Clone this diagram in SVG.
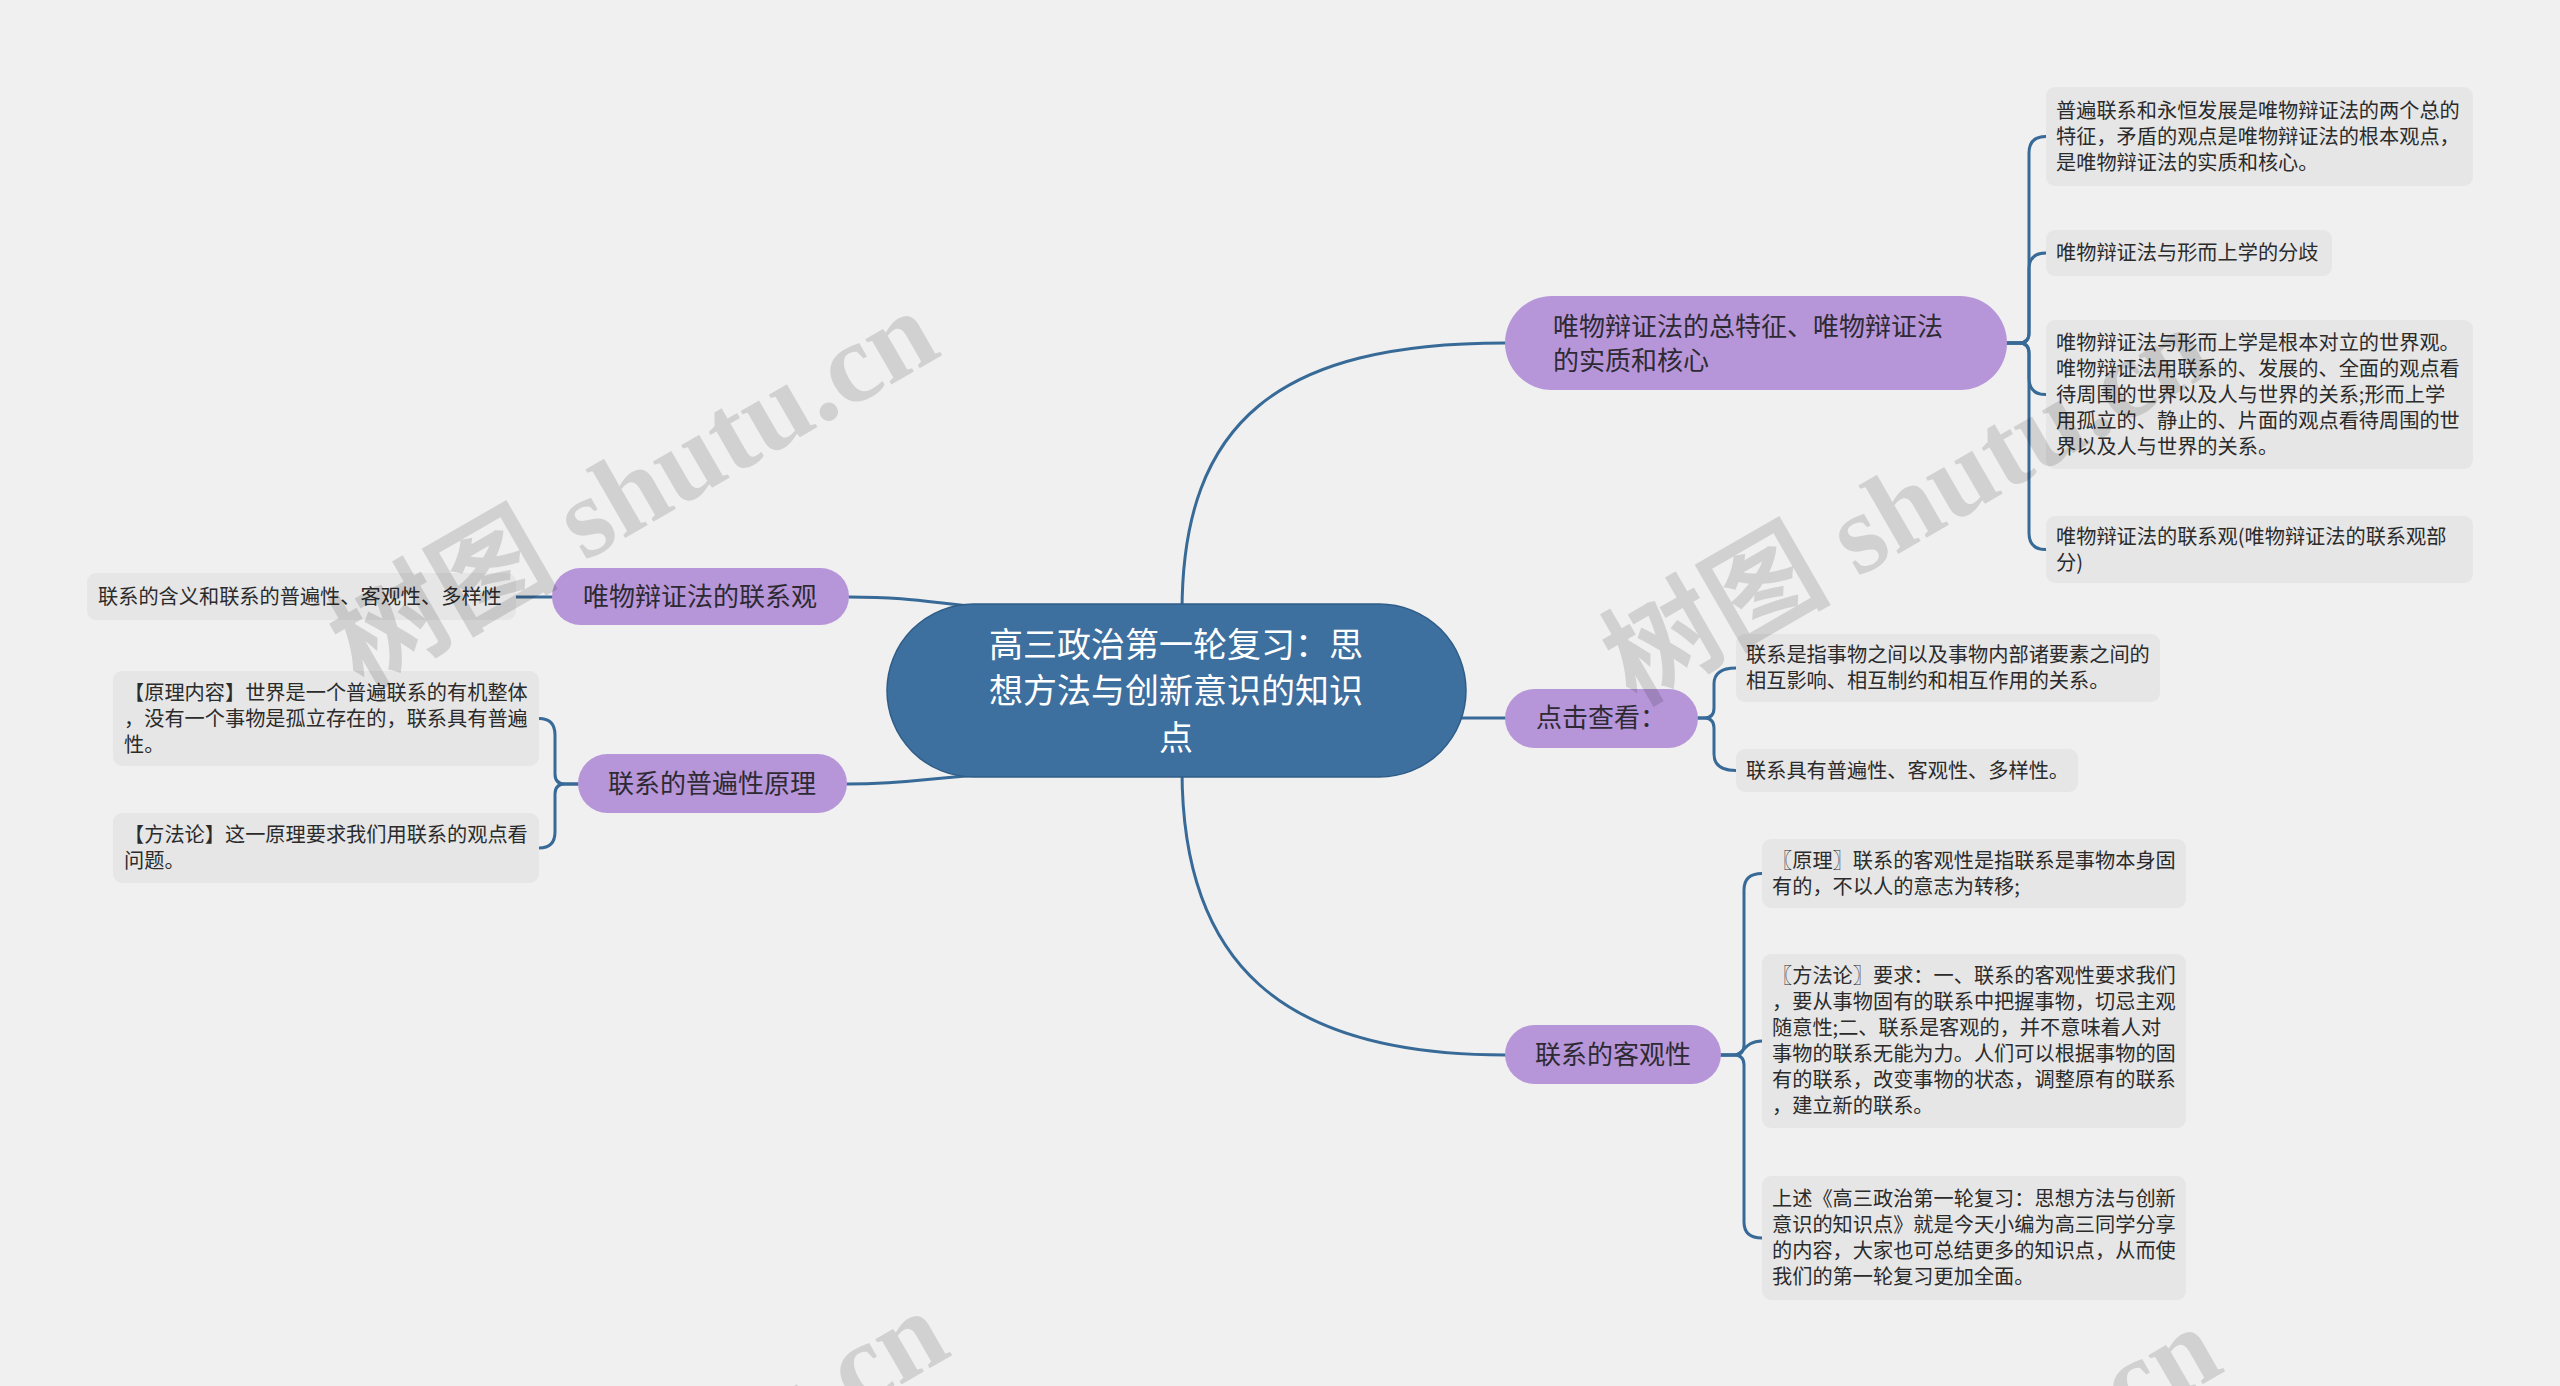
<svg xmlns="http://www.w3.org/2000/svg" width="2560" height="1386" viewBox="0 0 2560 1386">
<style>
.bg{fill:#f0f0f0}
.conn path{fill:none;stroke:#386a98;stroke-width:3;stroke-linecap:round}
.root rect{fill:#3d6f9f;stroke:#2f5d88;stroke-width:1.5}
.root text{fill:#ffffff;font-family:"Noto Sans CJK SC",sans-serif;font-size:34px;text-anchor:middle}
.main rect{fill:#b696d8}
.main text{fill:#2e2a33;font-family:"Noto Sans CJK SC",sans-serif;font-size:26px}
.leaf rect{fill:#e6e6e6}
.leaf text{fill:#2b2b2b;font-family:"Noto Sans CJK SC",sans-serif;font-size:20.2px}
.wm{fill:#000;fill-opacity:0.13;font-family:"Liberation Serif","Noto Sans CJK SC",serif;font-weight:bold;font-size:114px}
</style>
<rect class="bg" x="0" y="0" width="2560" height="1386"/>

<g class="conn" id="connectors">
<path d="M1182 612 C1182 420 1280 343 1505 343"/>
<path d="M1182 770 C1182 962 1280 1055 1505 1055"/>
<path d="M1440 718 H1505"/>
<path d="M849 597 C930 597 940 607 1030 610"/>
<path d="M847 784 C920 784 940 775 1030 772"/>
<path d="M2007 343 H2019 Q2029 343 2029 333 V153 Q2029 136.5 2046 136.5"/>
<path d="M2007 343 H2019 Q2029 343 2029 333 V269 Q2029 253 2046 253"/>
<path d="M2007 343 H2019 Q2029 343 2029 353 V378 Q2029 394.5 2046 394.5"/>
<path d="M2007 343 H2019 Q2029 343 2029 353 V533 Q2029 549.5 2046 549.5"/>
<path d="M1698 718 H1704 Q1714 718 1714 708 V684 Q1714 668 1736 668"/>
<path d="M1698 718 H1704 Q1714 718 1714 728 V754 Q1714 770.5 1736 770.5"/>
<path d="M1721 1055 H1734 Q1744 1055 1744 1045 V890 Q1744 873.5 1762 873.5"/>
<path d="M1721 1055 H1734 C1744 1055 1744 1041 1762 1041"/>
<path d="M1721 1055 H1734 Q1744 1055 1744 1065 V1222 Q1744 1238 1762 1238"/>
<path d="M552 597 H516"/>
<path d="M578 784 H565 Q555 784 555 774 V735 Q555 718.5 539 718.5"/>
<path d="M578 784 H565 Q555 784 555 794 V832 Q555 848 539 848"/>
</g>

<g class="root" id="node-root">
<rect x="887" y="604" width="579" height="173" rx="86.5"/>
<text x="1176" y="657">高三政治第一轮复习：思</text>
<text x="1176" y="703">想方法与创新意识的知识</text>
<text x="1176" y="750">点</text>
</g>

<g class="main" id="node-a">
<rect x="1505" y="296" width="502" height="94" rx="47"/>
<text x="1553" y="336">唯物辩证法的总特征、唯物辩证法</text>
<text x="1553" y="370">的实质和核心</text>
</g>
<g class="main" id="node-b">
<rect x="1505" y="689" width="193" height="59" rx="29.5"/>
<text x="1536" y="727">点击查看：</text>
</g>
<g class="main" id="node-c">
<rect x="1505" y="1025" width="216" height="59" rx="29.5"/>
<text x="1613" y="1064" text-anchor="middle">联系的客观性</text>
</g>
<g class="main" id="node-d">
<rect x="552" y="568" width="297" height="57" rx="28.5"/>
<text x="700" y="606" text-anchor="middle">唯物辩证法的联系观</text>
</g>
<g class="main" id="node-e">
<rect x="578" y="754" width="269" height="59" rx="29.5"/>
<text x="712" y="793" text-anchor="middle">联系的普遍性原理</text>
</g>

<g class="leaf" id="leaf-a1">
<rect x="2046" y="87" width="427" height="99" rx="9"/>
<text x="2056" y="117.5">普遍联系和永恒发展是唯物辩证法的两个总的</text>
<text x="2056" y="143.5">特征，矛盾的观点是唯物辩证法的根本观点，</text>
<text x="2056" y="169.5">是唯物辩证法的实质和核心。</text>
</g>
<g class="leaf" id="leaf-a2">
<rect x="2046" y="230" width="286" height="46" rx="9"/>
<text x="2056" y="260">唯物辩证法与形而上学的分歧</text>
</g>
<g class="leaf" id="leaf-a3">
<rect x="2046" y="320" width="427" height="149" rx="9"/>
<text x="2056" y="349.5">唯物辩证法与形而上学是根本对立的世界观。</text>
<text x="2056" y="375.5">唯物辩证法用联系的、发展的、全面的观点看</text>
<text x="2056" y="401.5">待周围的世界以及人与世界的关系;形而上学</text>
<text x="2056" y="427.5">用孤立的、静止的、片面的观点看待周围的世</text>
<text x="2056" y="453.5">界以及人与世界的关系。</text>
</g>
<g class="leaf" id="leaf-a4">
<rect x="2046" y="516" width="427" height="67" rx="9"/>
<text x="2056" y="543.5">唯物辩证法的联系观(唯物辩证法的联系观部</text>
<text x="2056" y="569.5">分)</text>
</g>
<g class="leaf" id="leaf-b1">
<rect x="1736" y="634" width="424" height="68" rx="9"/>
<text x="1746" y="662">联系是指事物之间以及事物内部诸要素之间的</text>
<text x="1746" y="688">相互影响、相互制约和相互作用的关系。</text>
</g>
<g class="leaf" id="leaf-b2">
<rect x="1736" y="749" width="342" height="43" rx="9"/>
<text x="1746" y="777.5">联系具有普遍性、客观性、多样性。</text>
</g>
<g class="leaf" id="leaf-c1">
<rect x="1762" y="839" width="424" height="69" rx="9"/>
<text x="1772" y="867.5">〖原理〗联系的客观性是指联系是事物本身固</text>
<text x="1772" y="893.5">有的，不以人的意志为转移;</text>
</g>
<g class="leaf" id="leaf-c2">
<rect x="1762" y="954" width="424" height="174" rx="9"/>
<text x="1772" y="983">〖方法论〗要求：一、联系的客观性要求我们</text>
<text x="1772" y="1009">，要从事物固有的联系中把握事物，切忌主观</text>
<text x="1772" y="1035">随意性;二、联系是客观的，并不意味着人对</text>
<text x="1772" y="1061">事物的联系无能为力。人们可以根据事物的固</text>
<text x="1772" y="1087">有的联系，改变事物的状态，调整原有的联系</text>
<text x="1772" y="1113">，建立新的联系。</text>
</g>
<g class="leaf" id="leaf-c3">
<rect x="1762" y="1176" width="424" height="124" rx="9"/>
<text x="1772" y="1206">上述《高三政治第一轮复习：思想方法与创新</text>
<text x="1772" y="1232">意识的知识点》就是今天小编为高三同学分享</text>
<text x="1772" y="1258">的内容，大家也可总结更多的知识点，从而使</text>
<text x="1772" y="1284">我们的第一轮复习更加全面。</text>
</g>
<g class="leaf" id="leaf-d1">
<rect x="87" y="573" width="429" height="47" rx="9"/>
<text x="98" y="604">联系的含义和联系的普遍性、客观性、多样性</text>
</g>
<g class="leaf" id="leaf-e1">
<rect x="113" y="671" width="426" height="95" rx="9"/>
<text x="124" y="699.5">【原理内容】世界是一个普遍联系的有机整体</text>
<text x="124" y="725.5">，没有一个事物是孤立存在的，联系具有普遍</text>
<text x="124" y="751.5">性。</text>
</g>
<g class="leaf" id="leaf-e2">
<rect x="113" y="813" width="426" height="70" rx="9"/>
<text x="124" y="842">【方法论】这一原理要求我们用联系的观点看</text>
<text x="124" y="868">问题。</text>
</g>

<g id="watermarks">
<text class="wm" transform="translate(362 690) rotate(-30)">树图 shutu.cn</text>
<text class="wm" transform="translate(1635 706) rotate(-30)">树图 shutu.cn</text>
<text class="wm" transform="translate(372 1690) rotate(-30)">树图 shutu.cn</text>
<text class="wm" transform="translate(1645 1706) rotate(-30)">树图 shutu.cn</text>
</g>
</svg>
